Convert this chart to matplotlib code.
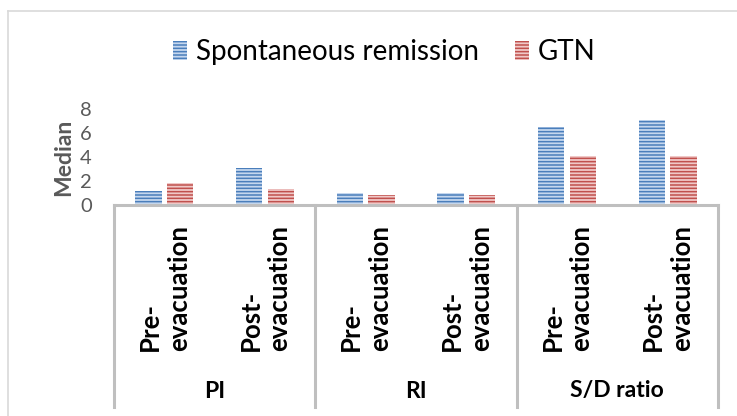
import matplotlib
matplotlib.use("Agg")
import matplotlib.pyplot as plt
from matplotlib.lines import Line2D
from matplotlib.patches import Patch
import numpy as np

plt.rcParams['font.family'] = ['Lato', 'DejaVu Sans']
plt.rcParams['hatch.linewidth'] = 1.1

groups = ["PI", "RI", "S/D ratio"]
categories = ["Pre-\nevacuation", "Post-\nevacuation"] * 3
series_names = ["Spontaneous remission", "GTN"]
spontaneous = [1.15, 3.05, 1.0, 1.0, 6.5, 7.1]
gtn = [1.8, 1.35, 0.8, 0.8, 4.05, 4.05]
yticks = [0, 2, 4, 6, 8]

W, H = 737, 416
fig = plt.figure(figsize=(W / 100, H / 100), dpi=100)
ax_l, ax_r = 114, 718
ax_top, ax_bot = 109, 205
ax = fig.add_axes([ax_l / W, 1 - ax_bot / H, (ax_r - ax_l) / W, (ax_bot - ax_top) / H])

x = np.arange(len(categories)) + 0.5
bw = 0.262
blue_face, blue_edge = "#c5d7ee", "#4a7ebb"
red_face, red_edge = "#f0c8c7", "#c0504d"
ax.bar(x - 0.158, spontaneous, bw, facecolor=blue_face, edgecolor=blue_edge,
       hatch="-----", linewidth=0)
ax.bar(x + 0.158, gtn, bw, facecolor=red_face, edgecolor=red_edge,
       hatch="-----", linewidth=0)

ax.set_xlim(0, len(categories))
ax.set_ylim(0, 8)
ax.set_yticks(yticks)
ax.set_xticks([])
for s in ["top", "right", "left"]:
    ax.spines[s].set_visible(False)
ax.spines["bottom"].set_color("#bfbfbf")
ax.spines["bottom"].set_linewidth(2.2)
ax.tick_params(axis="y", length=0, pad=16, labelsize=14.5, labelcolor="#595959")
ax.set_ylabel("Median", fontsize=16.5, fontweight="bold", color="#595959", labelpad=4)

tr = ax.get_xaxis_transform()
ph = ax_bot - ax_top
for xi, lab in zip(x, categories):
    ax.text(xi, (ax_bot - 288) / ph, lab, rotation=90, ha="center", va="center",
            multialignment="left", fontsize=18.5, fontweight="bold", transform=tr,
            linespacing=1.25)
for gi, g in enumerate(groups):
    ax.text(2 * gi + 1, (ax_bot - 391) / ph, g, ha="center", va="center",
            fontsize=16.5, fontweight="bold", transform=tr)
for xb in [0, 2, 4, 6]:
    ax.add_line(Line2D([xb, xb], [0, (ax_bot - 407) / ph], transform=tr,
                       color="#bfbfbf", lw=2.2, clip_on=False))

handles = [Patch(facecolor=blue_face, edgecolor=blue_edge, hatch="-----", linewidth=0),
           Patch(facecolor=red_face, edgecolor=red_edge, hatch="-----", linewidth=0)]
fig.legend(handles, series_names, loc="center", bbox_to_anchor=(384 / W, 1 - 52 / H),
           ncol=2, frameon=False, fontsize=20, handlelength=0.5, handleheight=0.65,
           handletextpad=0.32, columnspacing=1.3)

fig.add_artist(Line2D([8 / W, 8 / W], [0, 1 - 11 / H], color="#d9d9d9", lw=1.2))
fig.add_artist(Line2D([8 / W, 1], [1 - 11 / H, 1 - 11 / H], color="#d9d9d9", lw=1.2))

fig.savefig("out.png", dpi=100)
